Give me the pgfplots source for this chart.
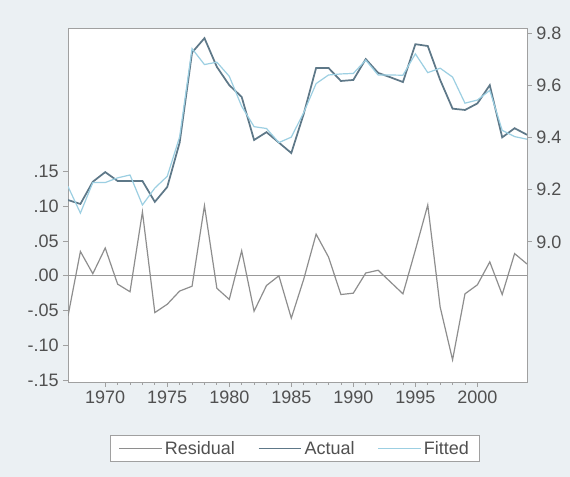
\documentclass[border=0pt]{standalone}
\usepackage{pgfplots}
\pgfplotsset{compat=1.18}
\usepackage{fontspec}
\setmainfont{Liberation Sans}
\definecolor{bg}{HTML}{EBF0F3}
\definecolor{residc}{HTML}{8E8E8E}
\definecolor{actc}{HTML}{5E7888}
\definecolor{fitc}{HTML}{9CCFE2}
\definecolor{framec}{HTML}{A0A0A0}
\definecolor{labc}{HTML}{505050}
\pgfplotstableread{
year resid actual fitted
1967 -0.058 9.160 9.212
1968 0.035 9.145 9.110
1969 0.003 9.230 9.227
1970 0.040 9.267 9.227
1971 -0.012 9.233 9.245
1972 -0.023 9.233 9.256
1973 0.092 9.233 9.141
1974 -0.053 9.153 9.206
1975 -0.041 9.210 9.251
1976 -0.022 9.380 9.402
1977 -0.015 9.725 9.740
1978 0.101 9.780 9.679
1979 -0.018 9.670 9.688
1980 -0.034 9.600 9.634
1981 0.036 9.555 9.519
1982 -0.051 9.390 9.441
1983 -0.014 9.420 9.434
1984 0.000 9.380 9.380
1985 -0.061 9.340 9.401
1986 -0.005 9.490 9.495
1987 0.060 9.666 9.606
1988 0.027 9.666 9.639
1989 -0.027 9.616 9.643
1990 -0.025 9.620 9.645
1991 0.004 9.700 9.696
1992 0.008 9.647 9.639
1993 -0.009 9.630 9.639
1994 -0.026 9.612 9.638
1995 0.037 9.757 9.720
1996 0.102 9.750 9.648
1997 -0.045 9.620 9.665
1998 -0.121 9.510 9.631
1999 -0.026 9.505 9.531
2000 -0.013 9.530 9.543
2001 0.020 9.600 9.580
2002 -0.027 9.400 9.427
2003 0.032 9.435 9.403
2004 0.017 9.410 9.393
}\datatable
\pgfplotsset{
  common/.style={
    at={(51pt,71.25pt)}, anchor=south west,
    scale only axis, width=344.25pt, height=265.5pt,
    xmin=1967, xmax=2004,
    axis line style={framec, line width=0.6pt},
    tick style={framec, line width=0.6pt},
    tick align=outside,
    major tick length=3.5pt, minor tick length=2pt,
    ticklabel style={font=\fontsize{13.5}{16}\selectfont, text=labc},
  }
}
\begin{document}
\begin{tikzpicture}
\fill[bg] (0,0) rectangle (427.5pt,357.75pt);
\begin{axis}[common,
  axis background/.style={fill=white},
  ymin=-0.153, ymax=0.357,
  xtick={1970,1975,1980,1985,1990,1995,2000},
  xticklabels={1970,1975,1980,1985,1990,1995,2000},
  minor x tick num=4,
  xtick pos=bottom,
  ytick={-0.15,-0.10,-0.05,0,0.05,0.10,0.15},
  yticklabels={-.15,-.10,-.05,.00,.05,.10,.15},
  ytick pos=left,
  extra y ticks={0},
  extra y tick labels={},
  extra y tick style={grid=major, major grid style={gray!80, line width=0.6pt}, major tick length=0pt},
]
\addplot[residc, line width=0.9pt, mark=none] table[x=year, y=resid]{\datatable};
\end{axis}
\begin{axis}[common,
  ymin=8.463, ymax=9.819,
  axis x line=none,
  axis y line*=right,
  ytick={9.0,9.2,9.4,9.6,9.8},
  yticklabels={9.0,9.2,9.4,9.6,9.8},
  legend columns=3,
  legend style={at={(0.4946,-0.188)}, anchor=center, draw=framec, fill=white,
    font=\fontsize{13.5}{16}\selectfont, text=labc,
    inner xsep=6pt, inner ysep=2pt,
    /tikz/every even column/.append style={column sep=15pt}},
  legend image code/.code={\draw[#1] (0pt,0pt) -- (32pt,0pt);},
]
\addlegendimage{residc, line width=0.9pt}
\addlegendentry{Residual}
\addplot[actc, line width=1.3pt, mark=none] table[x=year, y=actual]{\datatable};
\addlegendentry{Actual}
\addplot[fitc, line width=0.9pt, mark=none] table[x=year, y=fitted]{\datatable};
\addlegendentry{Fitted}
\end{axis}
\end{tikzpicture}
\end{document}
